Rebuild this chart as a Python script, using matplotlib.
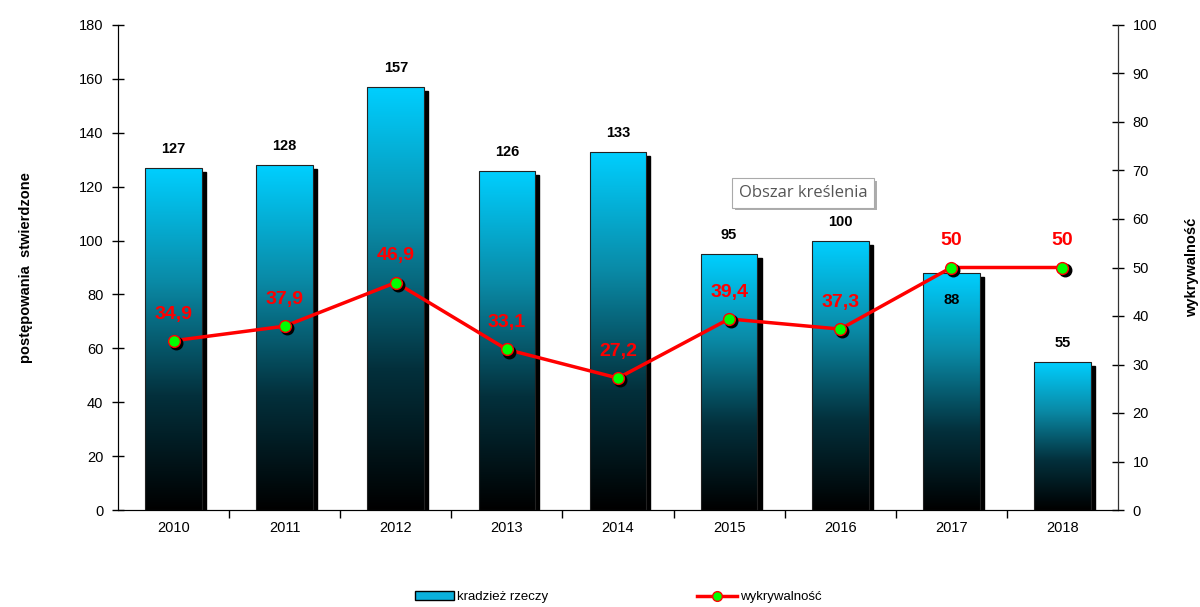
import numpy as np
import matplotlib
matplotlib.use('Agg')
import matplotlib.pyplot as plt
from matplotlib.patches import Rectangle, Patch
from matplotlib.lines import Line2D
import matplotlib.patheffects as pe
from matplotlib.colors import LinearSegmentedColormap
from matplotlib.transforms import offset_copy

plt.rcParams['font.family'] = ['Liberation Sans', 'DejaVu Sans']

# Dane
years = ['2010', '2011', '2012', '2013', '2014', '2015', '2016', '2017', '2018']
kradziez = [127, 128, 157, 126, 133, 95, 100, 88, 55]
wykrywalnosc = [34.9, 37.9, 46.9, 33.1, 27.2, 39.4, 37.3, 50, 50]
wykr_labels = ['34,9', '37,9', '46,9', '33,1', '27,2', '39,4', '37,3', '50', '50']

fig = plt.figure(figsize=(12, 6.07), dpi=100)
ax = fig.add_axes([118/1200, 1 - 510/607, 1000/1200, 485/607])
ax2 = ax.twinx()

x = np.arange(len(years))
bar_w = 0.51

# gradient cyan (gora) -> czarny (dol)
cmap = LinearSegmentedColormap.from_list('grad', ['#00cfff', '#0a8aa6', '#03303c', '#000000'])
grad = np.linspace(1, 0, 256).reshape(-1, 1)

for xi, v in zip(x, kradziez):
    rect = Rectangle((xi - bar_w / 2, 0), bar_w, v, facecolor='none', edgecolor='#222222',
                     linewidth=0.8, zorder=3)
    shadow = Rectangle((xi - bar_w / 2, 0), bar_w, v, facecolor='black', edgecolor='black',
                       zorder=1, transform=offset_copy(ax.transData, fig, x=3, y=-3, units='points'))
    ax.add_patch(shadow)
    ax.add_patch(rect)
    im = ax.imshow(grad, cmap=cmap, aspect='auto', extent=(xi - bar_w / 2, xi + bar_w / 2, 0, v),
                   origin='lower', zorder=2, vmin=0, vmax=1)
    im.set_clip_path(rect)

# etykiety słupków
for xi, v in zip(x, kradziez):
    if v == 88:
        ax.text(xi, v - 10, str(v), ha='center', va='center', fontsize=10.5, fontweight='bold', zorder=6)
    else:
        ax.text(xi, v + 7, str(v), ha='center', va='center', fontsize=10.5, fontweight='bold', zorder=6)

ax.set_xlim(-0.5, len(years) - 0.5)
ax.set_ylim(0, 180)
ax.set_yticks(np.arange(0, 181, 20))
ax.set_xticks(x)
ax.set_xticklabels(years)
ax.set_xticks(np.arange(0.5, len(years) - 0.5, 1), minor=True)
ax.tick_params(axis='x', which='major', length=0, labelsize=10.5, pad=8)
ax.tick_params(axis='x', which='minor', length=6, direction='out', width=1)
ax.tick_params(axis='y', length=9, direction='inout', width=1, labelsize=10.5, pad=6)
ax.spines['top'].set_visible(False)
for s in ['left', 'bottom']:
    ax.spines[s].set_color('#333333')
ax.set_ylabel('postępowania  stwierdzone', fontsize=10.5, fontweight='bold', labelpad=33)

# wykrywalność
ax2.set_ylim(0, 100)
ax2.set_yticks(np.arange(0, 101, 10))
ax2.tick_params(axis='y', length=9, direction='inout', width=1, labelsize=10.5, pad=6)
ax2.spines['top'].set_visible(False)
ax2.spines['right'].set_color('#333333')
ax2.set_ylabel('wykrywalność', fontsize=10.5, fontweight='bold', labelpad=20)

ax2.plot(x, wykrywalnosc, color='#ff0000', linewidth=2.5, zorder=4)
ax2.plot(x, wykrywalnosc, linestyle='none', marker='o', markersize=9, color='black', zorder=4,
         transform=offset_copy(ax2.transData, fig, x=1.5, y=-1.5, units='points'))
ax2.plot(x, wykrywalnosc, linestyle='none', marker='o', markersize=8.5, markerfacecolor='#00ff00',
         markeredgecolor='#ff0000', markeredgewidth=1, zorder=5)
for xi, v, lab in zip(x, wykrywalnosc, wykr_labels):
    ax2.text(xi, v + 5.5, lab, ha='center', va='center', fontsize=14, fontweight='bold',
             color='#ff0000', zorder=6)

# dymek "Obszar kreślenia"
fig.text(803 / 1200, 1 - 193 / 607, 'Obszar kreślenia', ha='center', va='center', fontsize=12,
         color='#555555', family=['Open Sans', 'DejaVu Sans'],
         bbox=dict(boxstyle='square,pad=0.4', facecolor='white', edgecolor='#aaaaaa', linewidth=0.8,
                   path_effects=[pe.SimplePatchShadow(offset=(2, -2), shadow_rgbFace='#999999', alpha=0.8),
                                 pe.Normal()]))

# legenda
handles = [Patch(facecolor='#0ab0dc', edgecolor='black', linewidth=1),
           Line2D([0], [0], color='#ff0000', linewidth=2.5, marker='o', markersize=7,
                  markerfacecolor='#00ff00', markeredgecolor='#ff0000')]
fig.legend(handles, ['kradzież rzeczy', 'wykrywalność'], loc='center', ncol=2,
           bbox_to_anchor=(0.515, 0.016), frameon=False, fontsize=9.5, columnspacing=11.3,
           handlelength=3.0, handletextpad=0.2, handleheight=0.6)

fig.savefig('out.png', dpi=100)
